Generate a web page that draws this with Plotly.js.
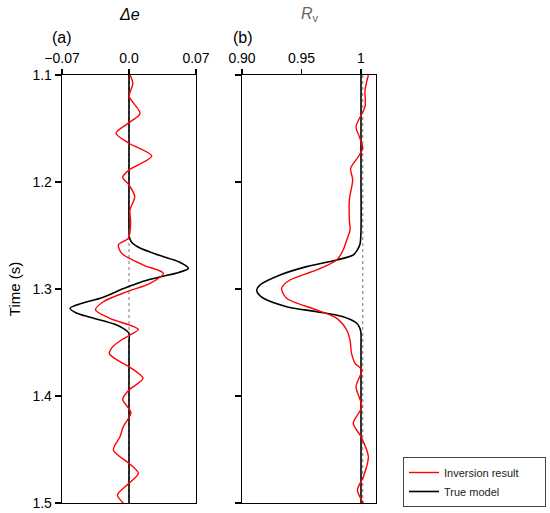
<!DOCTYPE html>
<html>
<head>
<meta charset="utf-8">
<script src="https://cdn.plot.ly/plotly-3.0.1.min.js"></script>
<style>html,body{margin:0;padding:0;background:#fff;}#chart{width:550px;height:513px;}</style>
</head>
<body>
<div id="chart"></div>
<script>
// Panel (a): Δe
const tTrueA = [1.1, 1.2, 1.245, 1.252, 1.2565, 1.2605, 1.2655, 1.2698, 1.2745, 1.2807, 1.2845, 1.2885, 1.2925, 1.2963, 1.301, 1.3045, 1.3087, 1.313, 1.318, 1.3225, 1.3264, 1.3336, 1.338, 1.3414, 1.35, 1.4, 1.5];
const vTrueA = [0, 0, 0, 0.0005, 0.003, 0.009, 0.022, 0.036, 0.052, 0.062, 0.052, 0.033, 0.016, 0.004, -0.0095, -0.018, -0.030, -0.048, -0.0616, -0.055, -0.0408, -0.0129, -0.004, 0, 0, 0, 0];
const tInvA = [1.1, 1.1078, 1.12, 1.1358, 1.145, 1.1545, 1.1638, 1.1757, 1.1888, 1.1956, 1.2028, 1.2137, 1.226, 1.238, 1.2526, 1.2585, 1.2667, 1.2776, 1.2853, 1.2947, 1.3025, 1.3119, 1.3196, 1.3274, 1.3377, 1.343, 1.3477, 1.355, 1.3605, 1.3665, 1.3726, 1.3835, 1.3944, 1.4031, 1.4156, 1.4287, 1.438, 1.4505, 1.4629, 1.4722, 1.4816, 1.4925, 1.5];
const vInvA = [0.001, 0.004, 0.0003, 0.0115, -0.0007, -0.0136, 0, 0.0237, 0, -0.0066, 0, 0.006, 0.001, 0.0017, -0.0007, -0.011, -0.0076, 0.015, 0.036, 0.022, -0.002, -0.0268, -0.035, -0.020, 0.0097, 0.001, -0.008, -0.018, -0.0205, -0.012, 0, 0.0146, 0, -0.0066, 0.002, -0.006, -0.0094, -0.0163, 0, 0.0098, 0, -0.012, -0.006];

// Panel (b): Rv
const tTrueB = [1.1, 1.2, 1.245, 1.258, 1.2635, 1.2682, 1.2729, 1.2791, 1.2869, 1.2963, 1.301, 1.3057, 1.3087, 1.3165, 1.3212, 1.3259, 1.332, 1.337, 1.3414, 1.35, 1.4, 1.5];
const vTrueB = [1, 1, 1, 0.9992, 0.997, 0.9935, 0.9796, 0.9543, 0.932, 0.915, 0.9123, 0.9145, 0.918, 0.9375, 0.9628, 0.985, 0.9964, 0.9992, 1, 1, 1, 1];
const tInvB = [1.1, 1.114, 1.1296, 1.1483, 1.1576, 1.1685, 1.1764, 1.1872, 1.1981, 1.2168, 1.2355, 1.245, 1.2542, 1.2636, 1.2729, 1.2822, 1.2916, 1.2993, 1.3087, 1.3196, 1.3274, 1.3383, 1.3477, 1.36, 1.3694, 1.3757, 1.3913, 1.41, 1.4255, 1.438, 1.4567, 1.4754, 1.4879, 1.5];
const vInvB = [1.0062, 1.0034, 1.0034, 0.9958, 0.9986, 1.0014, 0.9977, 0.9913, 0.993, 0.9902, 0.9902, 0.9908, 0.988, 0.985, 0.9796, 0.9628, 0.9403, 0.9333, 0.9375, 0.9628, 0.9796, 0.988, 0.9908, 0.992, 0.995, 1.0006, 0.9958, 1.0006, 0.9935, 1.0, 1.0062, 1.002, 0.997, 1.002];

const refA = 0;
const refB = 1.0015;
const timeRange = [1.1, 1.5];

const yTickVals = [1.1, 1.2, 1.3, 1.4, 1.5];
const yTickText = ['1.1', '1.2', '1.3', '1.4', '1.5'];
const xTickValsA = [-0.07, 0, 0.07];
const xTickTextA = ['\u22120.07', '0.0', '0.07'];
const xTickValsB = [0.90, 0.95, 1];
const xTickTextB = ['0.90', '0.95', '1'];
const seriesNames = ['Inversion result', 'True model'];

const FONT = 'Liberation Sans, Arial, sans-serif';
const PAD = '\u00a0\u00a0\u00a0\u00a0\u00a0\u00a0\u00a0';

const traces = [
  {x: [refA, refA], y: timeRange, xaxis: 'x', yaxis: 'y', mode: 'lines',
   line: {color: '#777', width: 1, dash: 'dot'}, showlegend: false, hoverinfo: 'skip'},
  {x: [refB, refB], y: timeRange, xaxis: 'x2', yaxis: 'y2', mode: 'lines',
   line: {color: '#777', width: 1, dash: 'dot'}, showlegend: false, hoverinfo: 'skip'},
  {x: vTrueA, y: tTrueA, xaxis: 'x', yaxis: 'y', mode: 'lines',
   line: {color: '#000', width: 1.6, shape: 'spline', smoothing: 0.8}, showlegend: false},
  {x: vInvA, y: tInvA, xaxis: 'x', yaxis: 'y', mode: 'lines',
   line: {color: '#ff0000', width: 1.4, shape: 'spline', smoothing: 0.8}, showlegend: false},
  {x: vTrueB, y: tTrueB, xaxis: 'x2', yaxis: 'y2', mode: 'lines', name: seriesNames[1],
   line: {color: '#000', width: 1.6, shape: 'spline', smoothing: 0.8}, showlegend: true, legendrank: 2},
  {x: vInvB, y: tInvB, xaxis: 'x2', yaxis: 'y2', mode: 'lines', name: seriesNames[0] + PAD,
   line: {color: '#ff0000', width: 1.4, shape: 'spline', smoothing: 0.8}, showlegend: true, legendrank: 1}
];

const axCommon = {
  showline: true, linecolor: '#000', linewidth: 1.3, mirror: true,
  ticks: 'outside', ticklen: 5, tickwidth: 1.2, tickcolor: '#000',
  showgrid: false, zeroline: false,
  tickfont: {family: FONT, size: 14, color: '#000'}
};

const layout = {
  width: 550, height: 513,
  margin: {l: 0, r: 0, t: 0, b: 0},
  paper_bgcolor: '#fff', plot_bgcolor: '#fff',
  font: {family: FONT, color: '#000'},
  xaxis: Object.assign({}, axCommon, {
    domain: [62/550, 196/550], anchor: 'y', side: 'top',
    range: [-0.07, 0.07], tickmode: 'array', tickvals: xTickValsA, ticktext: xTickTextA
  }),
  yaxis: Object.assign({}, axCommon, {
    domain: [1 - 503/513, 1 - 75/513], anchor: 'x',
    range: [1.5, 1.1], tickmode: 'array', tickvals: yTickVals, ticktext: yTickText,
    ticklen: 6,
    title: {text: 'Time (s)', font: {family: FONT, size: 15, color: '#000'}, standoff: 8}
  }),
  xaxis2: Object.assign({}, axCommon, {
    domain: [242/550, 376/550], anchor: 'y2', side: 'top',
    range: [0.90, 1.0126], tickmode: 'array', tickvals: xTickValsB, ticktext: xTickTextB
  }),
  yaxis2: Object.assign({}, axCommon, {
    domain: [1 - 503/513, 1 - 75/513], anchor: 'x2',
    range: [1.5, 1.1], tickmode: 'array', tickvals: yTickVals, showticklabels: false,
    ticklen: 6
  }),
  showlegend: true,
  legend: {
    x: 403/550, y: 1 - 457/513, xanchor: 'left', yanchor: 'top',
    bordercolor: '#444', borderwidth: 1, bgcolor: '#fff',
    font: {family: FONT, size: 11, color: '#222'},
    traceorder: 'normal', itemwidth: 30, tracegroupgap: 0
  },
  annotations: [
    {text: '<i>\u0394e</i>', xref: 'paper', yref: 'paper', x: 129/550, y: 1 - 14/513,
     xanchor: 'center', yanchor: 'middle', showarrow: false, font: {family: FONT, size: 16, color: '#000'}},
    {text: '(a)', xref: 'paper', yref: 'paper', x: 62/550, y: 1 - 37/513,
     xanchor: 'center', yanchor: 'middle', showarrow: false, font: {family: FONT, size: 16, color: '#000'}},
    {text: '<i>R</i><sub>v</sub>', xref: 'paper', yref: 'paper', x: 310/550, y: 1 - 15/513,
     xanchor: 'center', yanchor: 'middle', showarrow: false, font: {family: FONT, size: 16, color: '#666'}},
    {text: '(b)', xref: 'paper', yref: 'paper', x: 243/550, y: 1 - 37/513,
     xanchor: 'center', yanchor: 'middle', showarrow: false, font: {family: FONT, size: 16, color: '#000'}}
  ]
};

Plotly.newPlot('chart', traces, layout, {staticPlot: true, displayModeBar: false});
</script>
</body>
</html>
